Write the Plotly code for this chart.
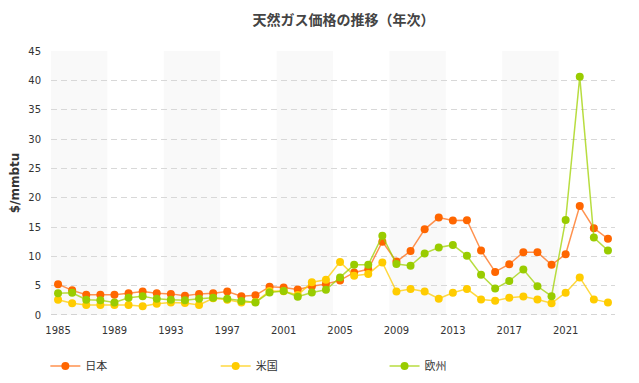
import plotly.graph_objects as go

years = list(range(1985, 2025))
japan = [5.26, 4.2, 3.45, 3.45, 3.45, 3.7, 4.0, 3.7, 3.6, 3.3, 3.6, 3.7, 4.0, 3.2, 3.35, 4.8, 4.7, 4.35, 4.9, 5.3,
         5.9, 7.25, 7.8, 12.5, 9.1, 10.9, 14.6, 16.6, 16.1, 16.15, 11.0, 7.35, 8.65, 10.7, 10.7, 8.55, 10.35, 18.6, 14.8, 13.0]
usa = [2.6, 2.0, 1.7, 1.7, 1.7, 1.7, 1.5, 1.9, 2.15, 2.05, 1.7, 2.85, 2.6, 2.15, 2.2, 4.1, 4.05, 3.4, 5.6, 6.0,
       9.05, 6.7, 7.0, 8.95, 4.0, 4.45, 4.0, 2.77, 3.8, 4.45, 2.65, 2.45, 2.95, 3.15, 2.65, 2.0, 3.8, 6.4, 2.65, 2.15]
europe = [3.7, 3.8, 2.6, 2.5, 2.15, 2.95, 3.2, 2.75, 2.6, 2.5, 2.75, 2.95, 2.75, 2.4, 2.15, 3.85, 4.1, 3.1, 3.85, 4.3,
          6.4, 8.55, 8.55, 13.5, 8.7, 8.4, 10.5, 11.5, 11.95, 10.1, 6.85, 4.5, 5.8, 7.75, 4.9, 3.2, 16.2, 40.6, 13.2, 11.0]
tick_years = list(range(1985, 2025, 4))
series_names = ["日本", "米国", "欧州"]

marker_colors = ["#ff6600", "#ffcc00", "#99cc00"]
line_colors = ["rgba(255,110,20,0.75)", "rgba(255,204,0,0.75)", "rgba(160,210,0,0.75)"]
legend_ids = ["legend", "legend2", "legend3"]
legend_x = [-0.01, 0.292, 0.5914]

fig = go.Figure()
for name, vals, mc, lc, lid in zip(series_names, [japan, usa, europe], marker_colors, line_colors, legend_ids):
    fig.add_trace(go.Scatter(
        x=years, y=vals, name=name, mode="lines+markers", legend=lid,
        line=dict(color=lc, width=1.5),
        marker=dict(color=mc, size=8, line=dict(width=0)),
    ))

# alternating 4-year background bands
shapes = []
for i, start in enumerate(tick_years):
    if i % 2 == 0:
        shapes.append(dict(type="rect", xref="x", yref="paper", x0=start - 0.5, x1=start + 3.5,
                           y0=0, y1=1, fillcolor="#f9f9f9", line=dict(width=0), layer="below"))
shapes.append(dict(type="line", xref="paper", yref="y", x0=0, x1=1, y0=0, y1=0,
                   line=dict(color="#aaaaaa", width=1, dash="6px,4px"), layer="below"))

legend_style = dict(orientation="h", xanchor="left", y=-0.189, yanchor="middle",
                    font=dict(family="Noto Sans CJK JP", size=11, color="#333333"),
                    bgcolor="rgba(0,0,0,0)")

fig.update_layout(
    width=639, height=383,
    margin=dict(l=43, r=32, t=43, b=75),
    paper_bgcolor="white", plot_bgcolor="white",
    font=dict(family="DejaVu Sans, Noto Sans CJK JP", size=10, color="#333333"),
    title=dict(text="<b>天然ガス価格の推移（年次）</b>", x=0.525, xanchor="center", y=0.969, yanchor="middle",
               font=dict(family="Noto Sans CJK JP", size=14, color="#444444")),
    shapes=shapes,
    showlegend=True,
    legend=dict(x=legend_x[0], **legend_style),
    legend2=dict(x=legend_x[1], **legend_style),
    legend3=dict(x=legend_x[2], **legend_style),
    xaxis=dict(range=[1984.5, 2024.5], tickvals=tick_years, ticktext=[str(y) for y in tick_years],
               showgrid=False, zeroline=False, showline=False, ticks="", ticklabelstandoff=8,
               automargin=False, tickfont=dict(size=10, color="#333333")),
    yaxis=dict(range=[0, 45], tickvals=list(range(0, 50, 5)), showgrid=True, gridcolor="#d8d8d8",
               griddash="6px,4px", gridwidth=1, zeroline=False, showline=False, ticks="",
               ticklabelstandoff=9, automargin=False, tickfont=dict(size=10, color="#333333"),
               title=dict(text="<b>$/mmbtu</b>", font=dict(family="DejaVu Sans", size=12, color="#333333"),
                          standoff=12)),
)

fig.write_html("out.html")
